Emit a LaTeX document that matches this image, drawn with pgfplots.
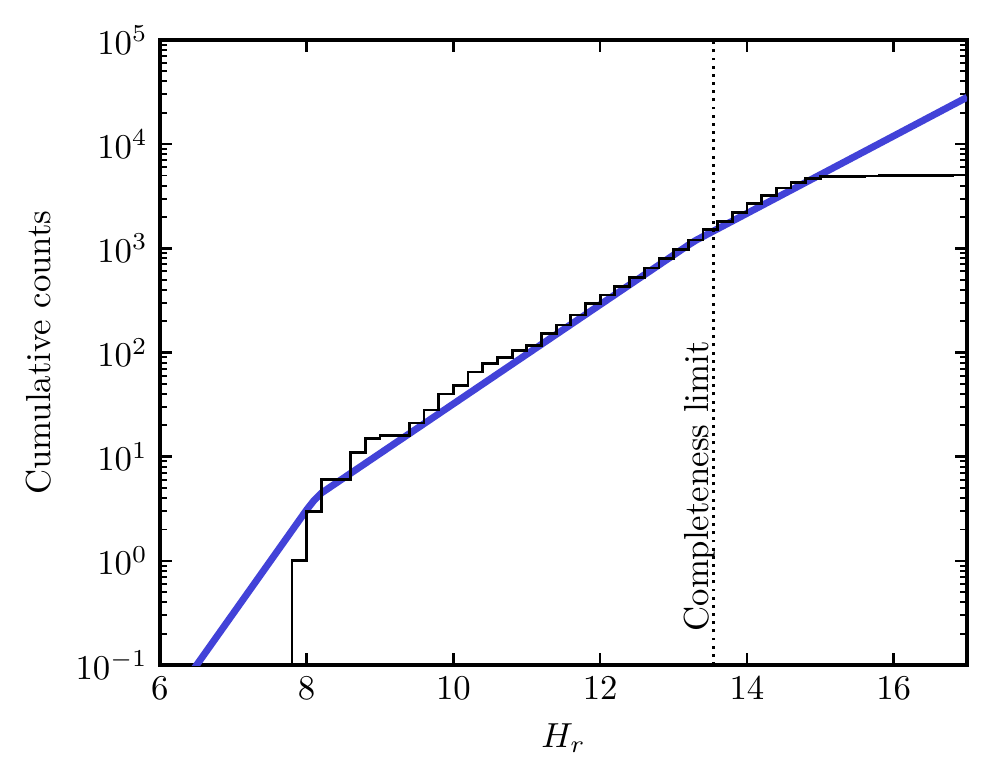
\documentclass[border=0pt]{standalone}
\usepackage{pgfplots}
\pgfplotsset{compat=1.18}
\definecolor{fitblue}{HTML}{4242D8}

\begin{document}
\begin{tikzpicture}
\useasboundingbox (-46pt,-33.4pt) rectangle (240.8pt,191.3pt);
\begin{axis}[at={(0,0)}, anchor=south west, scale only axis,
    width=232.2pt, height=179.8pt,
    ymode=log, xmin=6, xmax=17, ymin=1e-1, ymax=1e5,
    xtick={6,8,...,16}, ytick={1e-1,1,10,100,1000,10000,100000},
    tick align=inside, xtick pos=both, ytick pos=both,
    major tick length=3.5pt, minor tick length=2pt,
    every major tick/.style={black, line width=0.75pt},
    every minor tick/.style={black, line width=0.55pt},
    axis line style={line width=1pt},
    xlabel={$H_r$}, ylabel={Cumulative counts}]
  % fitted broken power law
  \addplot[fitblue, line width=2pt, no markers] coordinates {
    (6.4,0.0794) (8.0,3.09) (8.1,3.80) (8.2,4.47) (13.2,1072) (13.3,1189) (17.0,28184)};
  % cumulative histogram
  \addplot[black, line width=0.8pt, const plot, no markers] coordinates {
    (7.6,0.001) (7.8,1) (8.0,3) (8.2,6) (8.4,6) (8.6,11) (8.8,15) (9.0,16) (9.2,16)
    (9.4,21) (9.6,28) (9.8,40) (10.0,48) (10.2,65) (10.4,79) (10.6,89) (10.8,104)
    (11.0,117) (11.2,152) (11.4,184) (11.6,229) (11.8,293) (12.0,357) (12.2,428)
    (12.4,524) (12.6,646) (12.8,794) (13.0,978) (13.2,1200) (13.4,1510) (13.6,1820)
    (13.8,2190) (14.0,2700) (14.2,3240) (14.4,3800) (14.6,4300) (14.8,4640)
    (15.0,4880) (15.2,4900) (15.4,4920) (15.6,4940) (15.8,4960) (16.0,4980)
    (16.2,5000) (16.4,5010) (16.6,5030) (16.8,5050) (17.0,5060)};
  % completeness limit
  \addplot[black, line width=0.85pt, dash pattern=on 0.85pt off 1.5pt, no markers]
    coordinates {(13.55,0.1) (13.55,100000)};
  \node[rotate=90, anchor=base west] at (axis cs:13.47,0.16) {Completeness limit};
\end{axis}
\end{tikzpicture}
\end{document}
